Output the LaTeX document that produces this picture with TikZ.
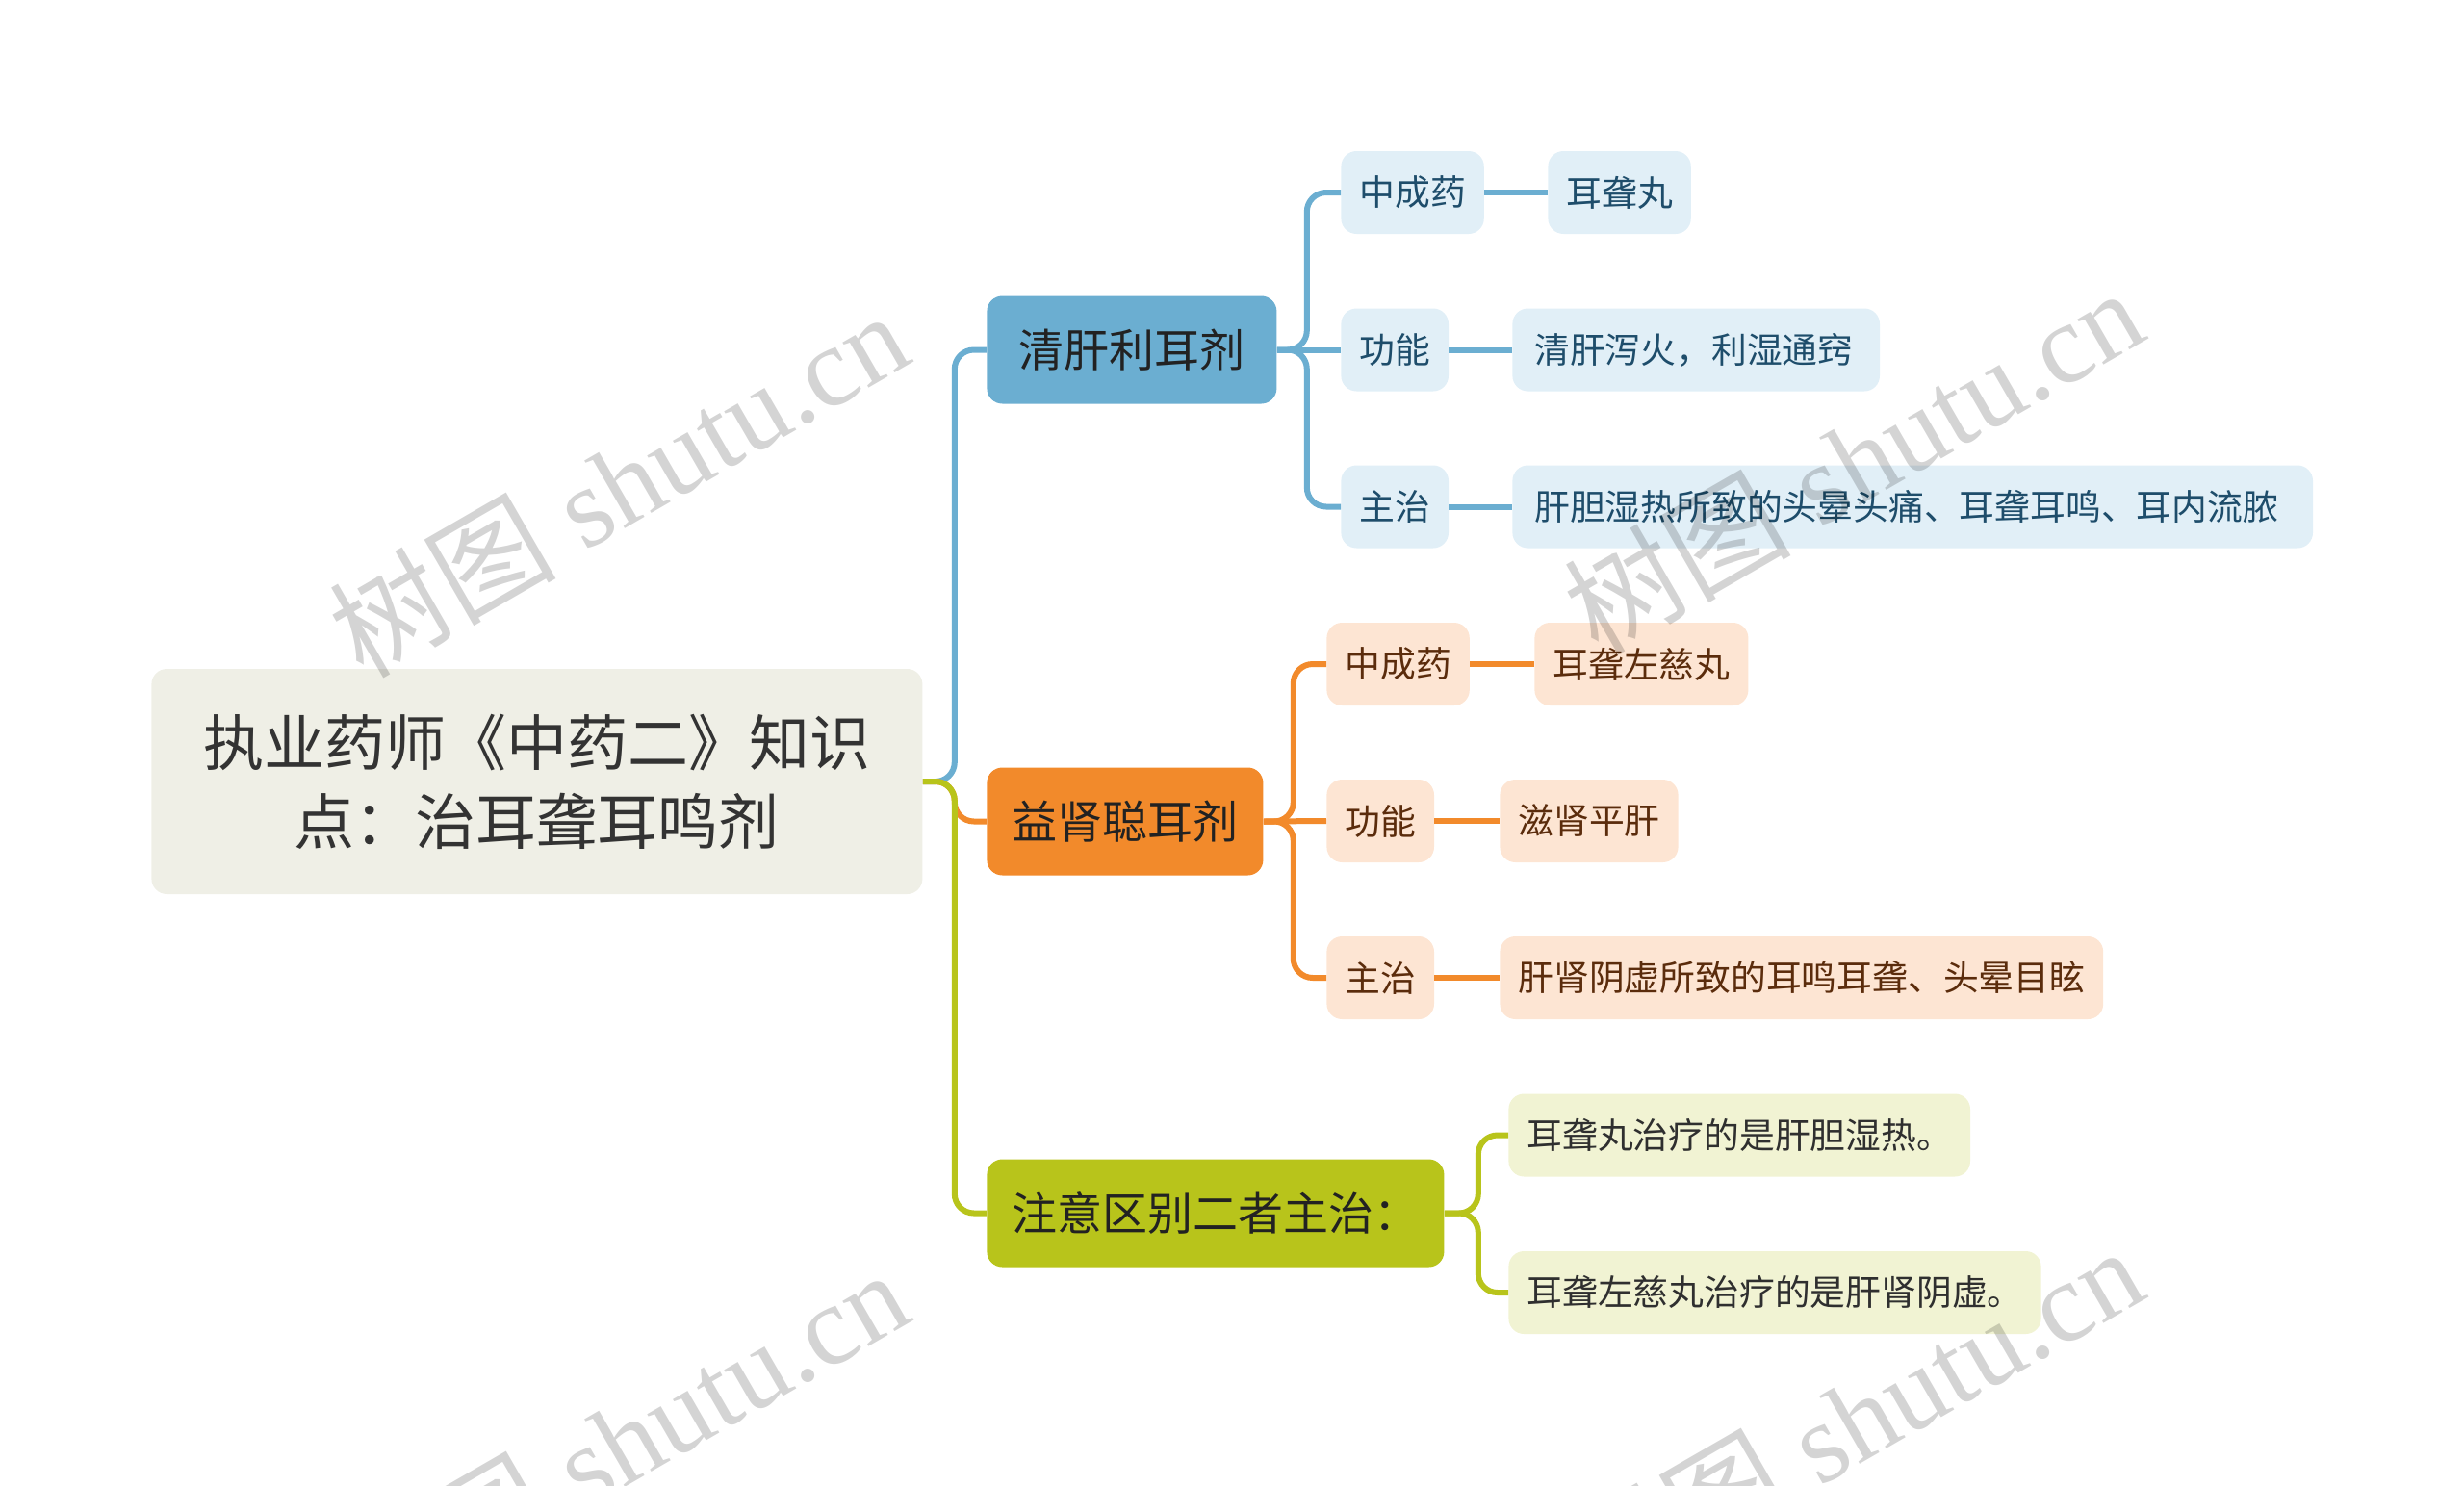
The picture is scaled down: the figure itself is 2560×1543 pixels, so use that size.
\documentclass[tikz,border=0pt]{standalone}
\usepackage{fontspec}
\newfontfamily\cjk{Noto Sans CJK SC}
\newfontfamily\wmfont{Liberation Serif}
\usetikzlibrary{calc}
\definecolor{rootfill}{HTML}{EFEFE6}
\definecolor{roottext}{HTML}{333333}
\definecolor{bluemain}{HTML}{6BAED1}
\definecolor{bluelight}{HTML}{E1EFF7}
\definecolor{bluetext}{HTML}{1E4D6B}
\definecolor{orgmain}{HTML}{F28A2B}
\definecolor{orglight}{HTML}{FDE5D3}
\definecolor{orgtext}{HTML}{5B2C0C}
\definecolor{olvmain}{HTML}{B8C41B}
\definecolor{olvlight}{HTML}{F1F3D3}
\definecolor{olvtext}{HTML}{2F2F2F}
\definecolor{lonetext}{HTML}{222222}
\tikzset{
  rootbox/.style={fill=rootfill, rounded corners=8pt, text=roottext,
    font=\cjk\fontsize{31.5}{41}\selectfont, align=center,
    inner xsep=27pt, minimum height=117pt, anchor=west},
  lone/.style={rounded corners=8pt, text=lonetext,
    font=\cjk\fontsize{23.5}{28}\selectfont,
    inner xsep=13pt, minimum height=56pt, anchor=west},
  ltwo/.style={rounded corners=8pt,
    font=\cjk\fontsize{18.4}{22}\selectfont,
    inner xsep=9.5pt, minimum height=43pt, anchor=west},
  bone/.style={lone, fill=bluemain},
  oone/.style={lone, fill=orgmain},
  vone/.style={lone, fill=olvmain},
  btwo/.style={ltwo, fill=bluelight, text=bluetext},
  otwo/.style={ltwo, fill=orglight, text=orgtext},
  vtwo/.style={ltwo, fill=olvlight, text=olvtext},
  conn/.style={line width=3pt, rounded corners=10pt},
  wmark/.style={text=black, text opacity=0.17, rotate=30,
    font=\wmfont\fontsize{59}{64}\selectfont}
}
\begin{document}
\begin{tikzpicture}[x=0.5pt,y=-0.5pt]
\useasboundingbox (0,0) rectangle (2560,1543);

% root
\node[rootbox] (root) at (157,812) {执业药师《中药二》知识\\点：治耳聋耳鸣剂};

% level 1
\node[bone, inner xsep=16.5pt] (b1) at (1025,363.5) {清肝利耳剂};
\node[oone] (b2) at (1025,853.5) {益肾聪耳剂};
\node[vone] (b3) at (1025,1260.5) {注意区别二者主治：};

% blue children
\node[btwo] (c11) at (1393,200) {中成药};
\node[btwo] (c12) at (1608,200) {耳聋丸};
\node[btwo] (c21) at (1393,363.5) {功能};
\node[btwo, inner xsep=11.4pt, text width=168pt, align=left] (c22) at (1571,363.5) {清肝泻火，利湿通窍};
\node[btwo] (c31) at (1393,526.5) {主治};
\node[btwo, inner xsep=11.4pt, text width=393pt, align=left] (c32) at (1571,526.5) {肝胆湿热所致的头晕头痛、耳聋耳鸣、耳内流脓};

% orange children
\node[otwo] (d11) at (1378,690) {中成药};
\node[otwo] (d12) at (1594,690) {耳聋左慈丸};
\node[otwo] (d21) at (1378,853) {功能};
\node[otwo] (d22) at (1558,853) {滋肾平肝};
\node[otwo] (d31) at (1378,1016) {主治};
\node[otwo] (d32) at (1558,1016) {肝肾阴虚所致的耳鸣耳聋、头晕目眩};

% olive children
\node[vtwo] (e1) at (1567,1179.5) {耳聋丸治疗的是肝胆湿热。};
\node[vtwo] (e2) at (1567,1343) {耳聋左慈丸治疗的是肝肾阴虚。};

% junctions
\coordinate (j0) at ($(root.east)+(33,0)$);
\coordinate (j1) at ($(b1.east)+(31,0)$);
\coordinate (j2) at ($(b2.east)+(31,0)$);
\coordinate (j3) at ($(b3.east)+(35,0)$);

% root connectors
\draw[conn, bluemain] (root.east) -- (j0) |- (b1.west);
\draw[conn, orgmain] (root.east) -- (j0) |- (b2.west);
\draw[conn, olvmain] (root.east) -- (j0) |- (b3.west);

% blue connectors
\draw[conn, bluemain] (b1.east) -- (j1) |- (c11.west);
\draw[conn, bluemain] (b1.east) -- (c21.west);
\draw[conn, bluemain] (b1.east) -- (j1) |- (c31.west);
\draw[conn, bluemain] (c11.east) -- (c12.west);
\draw[conn, bluemain] (c21.east) -- (c22.west);
\draw[conn, bluemain] (c31.east) -- (c32.west);

% orange connectors
\draw[conn, orgmain] (b2.east) -- (j2) |- (d11.west);
\draw[conn, orgmain] (b2.east) -- (d21.west);
\draw[conn, orgmain] (b2.east) -- (j2) |- (d31.west);
\draw[conn, orgmain] (d11.east) -- (d12.west);
\draw[conn, orgmain] (d21.east) -- (d22.west);
\draw[conn, orgmain] (d31.east) -- (d32.west);

% olive connectors
\draw[conn, olvmain] (b3.east) -- (j3) |- (e1.west);
\draw[conn, olvmain] (b3.east) -- (j3) |- (e2.west);

% watermarks
\node[wmark] (w1) at (642,502) {{\cjk 树图} shutu.cn};
\node[wmark] (w2) at (1925,478) {{\cjk 树图} shutu.cn};
\node[wmark] (w3) at (642,1498) {{\cjk 树图} shutu.cn};
\node[wmark] (w4) at (1925,1474) {{\cjk 树图} shutu.cn};
\end{tikzpicture}
\end{document}
